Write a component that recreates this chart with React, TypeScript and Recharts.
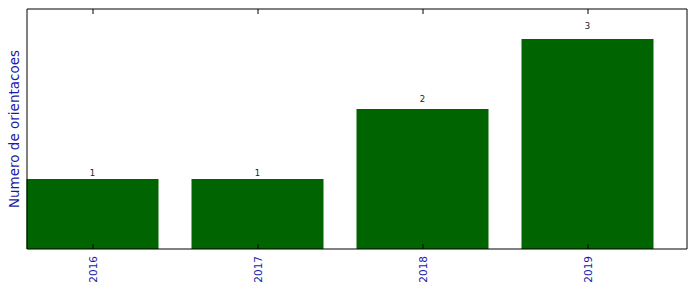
import { BarChart, Bar, XAxis, YAxis, LabelList, Label } from "recharts";

const YEARS = ["2016", "2017", "2018", "2019"];
const COUNTS = [1, 1, 2, 3];

const BLUE = "#1a1aaa";
const GREEN = "#006400";

const data = YEARS.map((year, i) => ({ pos: i, year, value: COUNTS[i] }));

function BottomTick({ x, y, payload }: any) {
  return (
    <g>
      <line x1={x} y1={y} x2={x} y2={y - 5} stroke="#000" strokeWidth={1} />
      <text
        x={x}
        y={y + 7}
        transform={`rotate(-90 ${x} ${y + 7})`}
        textAnchor="end"
        dominantBaseline="central"
        fontSize={10.5}
        fill={BLUE}
        fontFamily="DejaVu Sans"
      >
        {YEARS[payload.value]}
      </text>
    </g>
  );
}

function TopTick({ x, y }: any) {
  return <line x1={x} y1={y} x2={x} y2={y + 5} stroke="#000" strokeWidth={1} />;
}

// matplotlib-style label: placed at 1.05 * bar height
function ValueLabel({ x, y, width, height, value }: any) {
  return (
    <text
      x={x + width / 2}
      y={y - 0.05 * height}
      textAnchor="middle"
      fontSize={8.5}
      fill="#222"
      fontFamily="DejaVu Sans"
    >
      {value}
    </text>
  );
}

export default function App() {
  return (
    <div style={{ position: "absolute", left: 0, top: 0, background: "#fff" }}>
      <BarChart
        width={696}
        height={292}
        data={data}
        margin={{ top: 8, right: 8, bottom: 0, left: 0 }}
      >
        <XAxis
          dataKey="pos"
          type="number"
          domain={[-0.4, 3.6]}
          ticks={[0, 1, 2, 3]}
          tickSize={0}
          tickMargin={0}
          tickLine={false}
          tick={<BottomTick />}
          height={43}
          axisLine={{ stroke: "#000" }}
          interval={0}
        />
        <XAxis
          xAxisId="top"
          orientation="top"
          dataKey="pos"
          type="number"
          domain={[-0.4, 3.6]}
          ticks={[0, 1, 2, 3]}
          tickSize={0}
          tickMargin={0}
          tickLine={false}
          tick={<TopTick />}
          height={1}
          axisLine={{ stroke: "#000" }}
          interval={0}
        />
        <YAxis
          domain={[0, 3.43]}
          allowDataOverflow
          tick={false}
          tickLine={false}
          width={27}
          axisLine={{ stroke: "#000" }}
        >
          <Label
            value="Numero de orientacoes"
            angle={-90}
            position="center"
            dx={1}
            fill={BLUE}
            fontSize={13.5}
            fontFamily="DejaVu Sans"
          />
        </YAxis>
        <YAxis
          yAxisId="right"
          orientation="right"
          domain={[0, 3.43]}
          tick={false}
          tickLine={false}
          width={1}
          axisLine={{ stroke: "#000" }}
        />
        <Bar dataKey="value" fill={GREEN} barSize={132} isAnimationActive={false}>
          <LabelList dataKey="value" content={<ValueLabel />} />
        </Bar>
      </BarChart>
    </div>
  );
}
